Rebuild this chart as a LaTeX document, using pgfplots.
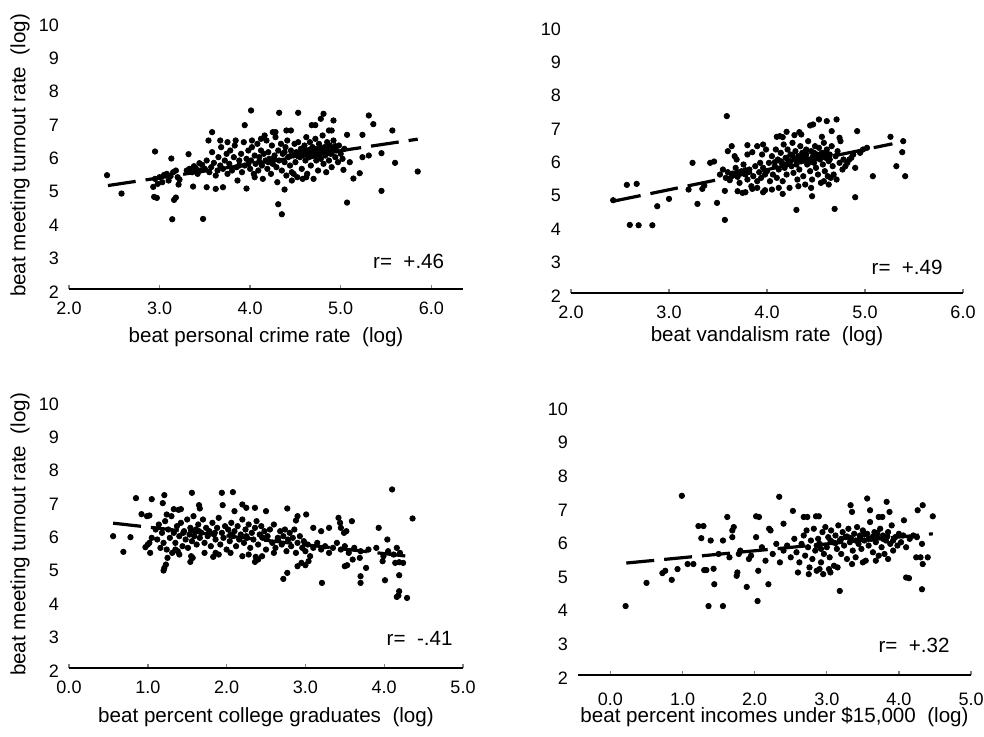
\documentclass[border=0pt]{standalone}
\usepackage{fontspec}
\setmainfont{Liberation Sans}
\usepackage{pgfplots}
\pgfplotsset{compat=1.18}

\pgfplotsset{
  panel/.style={
    scale only axis,
    ymin=2, ymax=10,
    axis x line=bottom,
    axis y line=left,
    axis line style={-, line width=0.75pt},
    y axis line style={draw=none},
    ytick={2,3,...,10},
    ytick style={draw=none},
    tick align=inside,
    major tick length=2pt,
    xtick style={line width=0.7pt},
    /pgf/number format/assume math mode=true,
    tick label style={font=\fontsize{9}{10}\selectfont},
    xticklabel style={anchor=center, yshift=-9.5pt,
      /pgf/number format/fixed, /pgf/number format/fixed zerofill,
      /pgf/number format/precision=1},
    yticklabel style={anchor=east, xshift=-1.5pt, yshift=-1.5pt},
    label style={font=\fontsize{10.3}{12}\selectfont},
    clip=false,
  },
  dots/.style={only marks, mark=*, mark size=1.35pt, black},
  fit/.style={no marks, black, line width=1.6pt, dash pattern=on 14pt off 5pt},
}

\begin{document}
\begin{tikzpicture}
\useasboundingbox (0,0) rectangle (492pt,368pt);

% top left
\begin{axis}[panel, at={(34.5pt,223.5pt)}, anchor=south west,
  width=197pt, height=133.5pt, xmin=2, xmax=6.35, xtick={2,3,4,5,6},
  xlabel={beat personal crime rate\ \ (log)},
  xlabel style={at={(axis description cs:0.5,-0.18)}, anchor=center},
  ylabel={beat meeting turnout rate\ \ (log)},
  ylabel style={at={(axis description cs:-0.124,0.5)}, anchor=center}]
\addplot[dots] coordinates {
(2.42,5.41) (2.58,4.86) (2.95,6.12) (2.93,5.06) (2.94,4.76) (2.97,4.73) (3.13,5.91) (3.14,4.09)
(3.16,4.67) (3.18,4.74) (3.21,5.13) (3.32,6.04) (3.37,5.07) (3.44,5.77) (3.48,4.10) (3.54,6.45)
(3.58,6.70) (3.67,6.45) (3.52,5.05) (3.62,5.00) (3.70,5.05) (3.94,6.91) (4.01,7.35) (3.96,5.01)
(4.32,7.28) (4.53,7.28) (4.31,4.54) (4.35,4.24) (4.38,4.98) (4.25,6.70) (4.28,6.70) (4.40,6.75)
(4.45,6.75) (4.81,7.25) (4.78,7.10) (4.92,7.05) (4.68,6.91) (4.72,6.91) (4.87,6.75) (4.90,6.75)
(5.31,7.20) (5.36,6.94) (5.57,6.75) (5.24,6.62) (5.07,6.62) (5.45,6.07) (5.60,5.78) (5.85,5.52)
(5.45,4.94) (5.07,4.59) (5.14,5.31) (5.21,5.47) (5.24,5.95) (5.31,6.00) (5.10,5.80) (5.03,5.57)
(2.95,5.30) (3.00,5.35) (3.05,5.42) (3.08,5.45) (3.12,5.38) (3.15,5.50) (3.18,5.55) (3.20,5.35)
(3.10,5.25) (3.03,5.20) (2.98,5.15) (3.22,5.28)
(3.30,5.55) (3.33,5.60) (3.36,5.50) (3.38,5.68) (3.40,5.62) (3.42,5.45) (3.45,5.55) (3.47,5.72)
(3.50,5.60) (3.52,5.85) (3.55,5.50) (3.57,5.65) (3.58,6.10) (3.60,5.78) (3.62,5.40) (3.64,5.55)
(3.65,5.95) (3.67,5.70) (3.68,6.25) (3.70,5.60) (3.72,5.85) (3.74,6.05) (3.75,5.45) (3.77,5.75)
(3.78,6.15) (3.80,5.55) (3.82,5.95) (3.83,6.30) (3.85,5.65) (3.86,5.25) (3.88,5.85) (3.90,6.05)
(3.91,5.50) (3.93,6.40) (3.94,5.70) (3.96,5.90) (3.98,6.15)
(4.00,5.60) (4.01,5.85) (4.02,6.25) (4.04,5.45) (4.05,6.00) (4.06,5.75) (4.08,6.35) (4.09,5.55)
(4.10,5.95) (4.12,6.15) (4.13,5.70) (4.14,5.30) (4.15,6.05) (4.17,5.85) (4.18,6.45) (4.19,5.60)
(4.20,6.10) (4.21,5.90) (4.23,5.45) (4.24,6.30) (4.25,5.75) (4.27,6.00) (4.28,6.55) (4.29,5.65)
(4.30,5.20) (4.31,6.15) (4.32,5.85) (4.34,6.35) (4.35,5.55) (4.36,6.05) (4.38,5.80) (4.39,6.25)
(4.40,5.40) (4.41,6.45) (4.42,5.95) (4.44,5.70) (4.45,6.15) (4.46,5.50) (4.48,6.00) (4.49,6.35)
(4.50,5.80) (4.51,6.10) (4.52,5.35) (4.53,6.40) (4.55,5.95) (4.56,6.20) (4.57,5.60) (4.58,6.05)
(4.60,6.30) (4.61,5.85) (4.62,6.55) (4.63,5.45) (4.64,6.15) (4.65,5.95) (4.66,6.40) (4.67,5.70)
(4.68,6.10) (4.69,6.25) (4.70,5.30) (4.71,6.00) (4.72,6.50) (4.73,5.85) (4.74,6.20) (4.75,5.55)
(4.76,6.35) (4.77,6.05) (4.78,5.90) (4.79,6.15) (4.80,6.60) (4.81,5.75) (4.82,6.25) (4.83,6.00)
(4.84,5.50) (4.85,6.40) (4.86,6.10) (4.87,5.85) (4.88,6.30) (4.89,6.05) (4.90,5.65) (4.91,6.20)
(4.92,6.45) (4.94,5.95) (4.95,6.15) (4.97,5.80) (4.98,6.30) (5.00,6.05) (5.02,5.90) (5.04,6.20)
(4.46,5.25) (4.58,5.30) (4.62,5.35) (4.48,5.45) (4.05,5.35) (4.16,6.60) (3.84,6.45) (3.75,6.40)
(4.12,6.50) (4.02,6.45)
(4.52,6.02) (4.57,6.12) (4.63,6.05) (4.66,6.18) (4.70,6.12) (4.74,6.02) (4.78,6.22) (4.82,6.10)
(4.86,6.25) (4.90,6.08) (4.44,5.98) (4.38,6.10) (4.26,5.92) (4.20,5.80) (4.10,5.82) (3.98,5.75)
(3.88,5.70) (4.60,6.18) (4.68,5.98) (4.94,6.28)
};
\addplot[fit] coordinates {(2.43,5.10) (5.85,6.49)};
\node[font=\fontsize{10.3}{12}\selectfont] at (axis cs:5.75,2.84) {r=\ \ +.46};
\end{axis}

% top right
\begin{axis}[panel, at={(285.5pt,221.5pt)}, anchor=south west,
  width=196pt, height=133.5pt, xmin=2, xmax=6, xtick={2,3,4,5,6},
  xlabel={beat vandalism rate\ \ (log)},
  xlabel style={at={(axis description cs:0.5,-0.161)}, anchor=center}]
\addplot[dots] coordinates {
(2.43,4.78) (2.57,5.24) (2.67,5.27) (2.60,4.04) (2.69,4.03) (2.83,4.03) (2.88,4.60) (3.00,4.82)
(3.20,5.10) (3.24,5.90) (3.29,4.67) (3.34,5.12) (3.36,5.22) (3.42,5.90) (3.46,5.94) (3.49,4.70)
(3.57,4.19) (3.57,5.06) (3.59,7.30) (3.60,6.25) (3.64,6.40) (3.67,6.10) (3.69,6.00) (3.70,5.05)
(3.75,5.00) (3.78,5.02) (3.80,6.43) (3.90,6.40) (3.96,6.45) (3.80,6.15) (3.85,6.22) (3.93,5.90)
(3.96,5.02) (3.98,5.08) (4.10,6.68) (4.13,6.70) (4.16,6.67) (4.20,6.83) (4.28,6.73) (4.33,6.82)
(4.35,6.75) (4.16,4.97) (4.30,4.49) (4.44,7.02) (4.47,7.05) (4.53,7.20) (4.61,7.15) (4.71,7.20)
(4.46,4.90) (4.56,6.68) (4.66,6.85) (4.74,6.65) (4.69,4.52) (4.92,6.85) (4.90,4.87) (5.08,5.50)
(5.26,6.68) (5.39,6.55) (5.38,6.22) (5.32,5.80) (5.41,5.50)
(3.52,5.55) (3.55,5.70) (3.58,5.45) (3.60,5.62) (3.62,5.38) (3.65,5.58) (3.68,5.75) (3.70,5.48)
(3.72,5.30) (3.74,5.65) (3.76,5.85) (3.78,5.55) (3.80,5.40) (3.82,5.70) (3.84,5.20) (3.86,5.50)
(3.88,5.80) (3.90,5.35) (3.92,5.62) (3.94,5.45) (3.96,5.75) (3.98,5.55) (3.85,5.12) (3.90,5.15)
(3.95,6.15) (3.99,6.30)
(4.00,5.65) (4.02,5.90) (4.03,5.35) (4.05,6.10) (4.06,5.55) (4.08,5.80) (4.09,6.30) (4.10,5.45)
(4.11,6.00) (4.12,5.70) (4.14,6.20) (4.15,5.90) (4.16,5.35) (4.17,6.45) (4.18,5.75) (4.19,6.05)
(4.20,5.55) (4.21,6.30) (4.22,5.95) (4.23,5.15) (4.24,6.15) (4.25,5.80) (4.26,6.50) (4.27,5.60)
(4.28,6.00) (4.29,6.25) (4.30,5.85) (4.31,5.40) (4.32,6.10) (4.33,5.70) (4.34,6.40) (4.35,5.95)
(4.36,6.20) (4.37,5.50) (4.38,6.05) (4.39,5.25) (4.40,6.30) (4.41,5.85) (4.42,6.55) (4.43,6.00)
(4.44,5.65) (4.45,6.25) (4.46,5.40) (4.47,6.10) (4.48,5.90) (4.49,6.40) (4.50,5.75) (4.51,6.15)
(4.52,5.55) (4.53,6.35) (4.54,6.00) (4.55,5.30) (4.56,6.20) (4.57,5.85) (4.58,6.50) (4.59,5.65)
(4.60,6.05) (4.61,6.30) (4.62,5.50) (4.63,5.95) (4.64,6.15) (4.65,5.45) (4.66,6.40) (4.67,5.80)
(4.68,5.55) (4.70,6.10) (4.71,5.40) (4.72,6.25) (4.74,5.90) (4.75,6.55) (4.77,5.70) (4.78,6.00)
(4.80,5.80) (4.82,5.90) (4.84,6.00) (4.86,6.05) (4.88,6.15) (4.90,5.75) (4.95,6.20) (4.98,6.30)
(5.02,6.35) (4.12,5.15) (4.32,5.20) (4.45,5.15) (4.58,5.35) (4.63,5.25) (4.05,5.10)
(4.14,5.95) (4.20,6.05) (4.26,6.12) (4.30,5.98) (4.36,6.08) (4.40,6.15) (4.44,5.92) (4.48,6.20)
(4.52,6.05) (4.56,6.12) (4.60,6.22) (4.64,6.00) (4.18,5.85) (4.24,5.95) (4.08,5.92) (3.70,5.62)
(3.78,5.68) (3.64,5.50)
};
\addplot[fit] coordinates {(2.43,4.75) (5.28,6.47)};
\node[font=\fontsize{10.3}{12}\selectfont] at (axis cs:5.43,2.78) {r=\ \ +.49};
\end{axis}

% bottom left
\begin{axis}[panel, at={(34.5pt,34pt)}, anchor=south west,
  width=197pt, height=133.5pt, xmin=0, xmax=5, xtick={0,1,2,3,4,5},
  xlabel={beat percent college graduates\ \ (log)},
  xlabel style={at={(axis description cs:0.5,-0.184)}, anchor=center},
  ylabel={beat meeting turnout rate\ \ (log)},
  ylabel style={at={(axis description cs:-0.124,0.5)}, anchor=center}]
\addplot[dots] coordinates {
(0.56,5.95) (0.69,5.48) (0.78,5.92) (0.85,7.09) (0.92,6.61) (0.99,6.55) (1.02,6.57) (1.05,7.06)
(0.97,5.62) (1.00,5.70) (1.02,5.75) (1.03,5.45) (1.05,5.90) (1.21,7.18) (1.19,6.94) (1.20,4.92)
(1.21,5.00) (1.23,5.10) (1.24,6.60) (1.56,7.25) (1.54,5.18) (1.57,5.30) (1.65,6.88) (1.66,6.78)
(1.33,6.76) (1.39,6.74) (1.42,6.76) (1.83,5.33) (1.86,5.45) (1.94,7.25) (1.95,6.88) (2.08,7.27)
(2.10,6.70) (2.20,6.90) (2.25,6.80) (2.36,6.80) (2.50,6.70) (2.20,5.35) (2.36,5.18) (2.37,5.33)
(2.77,6.78) (2.72,4.67) (2.77,4.85) (2.88,6.42) (2.90,6.55) (3.01,6.60) (2.90,5.05) (2.95,5.15)
(3.00,5.08) (3.04,5.20) (3.21,4.55) (3.10,6.20) (3.20,6.10) (3.30,6.20) (3.42,6.50) (3.44,6.35)
(3.45,6.20) (3.49,6.05) (3.52,6.10) (3.59,6.40) (3.50,5.05) (3.53,5.08) (3.60,5.25) (3.69,5.30)
(3.70,4.75) (3.70,4.55) (3.77,5.00) (3.93,6.20) (3.98,5.20) (3.99,5.35) (4.01,4.63) (4.04,5.85)
(4.10,7.35) (4.12,5.40) (4.16,5.60) (4.14,5.15) (4.19,5.17) (4.24,5.15) (4.19,4.78) (4.16,4.13)
(4.18,4.17) (4.19,4.30) (4.29,4.10) (4.36,6.48)
(1.10,6.15) (1.12,5.85) (1.14,6.30) (1.16,5.60) (1.18,6.05) (1.20,5.75) (1.22,6.40) (1.24,5.55)
(1.26,6.15) (1.28,5.90) (1.30,6.55) (1.31,5.45) (1.33,6.05) (1.35,5.75) (1.37,6.25) (1.38,5.50)
(1.40,5.95) (1.42,6.35) (1.44,5.65) (1.46,6.10) (1.48,5.85) (1.50,6.45) (1.51,5.60) (1.53,6.00)
(1.54,6.20) (1.56,5.80) (1.58,6.55) (1.59,5.95) (1.61,6.15) (1.62,5.70) (1.64,6.30) (1.66,5.90)
(1.68,6.05) (1.70,6.45) (1.72,5.75) (1.74,6.20) (1.76,5.95) (1.78,6.10) (1.80,5.65) (1.82,6.35)
(1.84,6.00) (1.86,5.85) (1.88,6.20) (1.90,6.50) (1.92,5.70) (1.94,6.05) (1.96,5.90) (1.98,6.25)
(2.00,5.55) (2.02,6.15) (2.04,5.80) (2.06,6.35) (2.08,5.95) (2.10,6.10) (2.12,5.65) (2.14,6.25)
(2.16,5.85) (2.18,6.00) (2.20,6.45) (2.22,5.75) (2.24,6.15) (2.26,5.90) (2.28,6.30) (2.30,5.60)
(2.32,6.05) (2.34,5.85) (2.36,6.20) (2.38,6.40) (2.40,5.70) (2.42,6.00) (2.44,6.25) (2.46,5.90)
(2.48,6.10) (2.50,5.55) (2.52,5.95) (2.55,6.15) (2.58,5.75) (2.60,6.30) (2.62,5.60) (2.65,5.90)
(2.68,6.10) (2.70,5.70) (2.72,5.95) (2.74,6.15) (2.76,5.50) (2.78,5.85) (2.80,6.05) (2.82,5.65)
(2.84,5.90) (2.86,6.15) (2.88,5.45) (2.90,5.75) (2.93,5.95) (2.96,5.60) (2.98,5.80) (3.00,5.50)
(3.03,5.70) (3.06,5.35) (3.10,5.60) (3.15,5.75) (3.20,5.55) (3.25,5.65) (3.30,5.45) (3.35,5.60)
(3.40,5.75) (3.45,5.55) (3.50,5.65) (3.55,5.45) (3.62,5.60) (3.70,5.50) (3.80,5.55) (3.90,5.60)
(4.05,5.50) (4.20,5.45)
(1.25,5.30) (1.40,5.40) (1.55,5.35) (1.72,5.45) (1.90,5.40) (2.05,5.45) (2.28,5.40) (2.45,5.35)
(2.60,5.45) (1.35,5.55) (2.40,5.25)
(1.45,6.05) (1.65,6.10) (1.85,6.05) (2.05,6.00) (2.25,5.95) (2.45,5.92) (2.65,5.85) (1.55,6.12)
};
\addplot[fit] coordinates {(0.56,6.34) (4.37,5.33)};
\node[font=\fontsize{10.3}{12}\selectfont] at (axis cs:4.45,2.9) {r=\ \ -.41};
\end{axis}

% bottom right
\begin{axis}[panel, at={(289pt,30.5pt)}, anchor=south west,
  width=196.5pt, height=134.5pt, xmin=-0.45, xmax=5, xtick={0,1,2,3,4,5},
  xlabel={beat percent incomes under \$15,000\ \ (log)},
  xlabel style={at={(axis description cs:0.5,-0.156)}, anchor=center},
  xticklabel style={yshift=-2.5pt}]
\addplot[dots] coordinates {
(0.21,4.05) (0.50,4.74) (0.72,5.03) (0.76,5.10) (0.85,4.83) (0.93,5.15) (1.07,5.30) (1.15,5.30)
(0.99,7.33) (1.22,6.43) (1.29,6.43) (1.26,6.07) (1.30,5.12) (1.33,5.12) (1.39,6.00) (1.36,4.05)
(1.44,4.70) (1.43,5.16) (1.56,4.05) (1.56,6.00) (1.62,6.70) (1.69,6.30) (1.71,6.40) (1.69,6.10)
(1.75,4.95) (1.76,5.05) (1.78,5.60) (1.89,4.62) (1.92,5.45) (2.02,6.72) (2.06,6.70) (2.02,6.10)
(2.04,4.20) (2.05,5.10) (2.19,4.70) (2.20,6.35) (2.22,6.30) (2.34,7.30) (2.40,6.50) (2.53,6.88)
(2.68,6.70) (2.73,6.70) (2.85,6.72) (2.89,6.72) (3.18,4.50) (3.33,7.05) (3.35,6.85) (3.56,7.25)
(3.60,6.90) (3.83,7.15) (3.87,6.85) (3.72,6.70) (3.77,6.70) (4.07,6.60) (4.10,4.90) (4.14,4.88)
(4.26,6.90) (4.33,7.05) (4.32,4.55) (4.33,5.30) (4.30,5.50) (4.40,5.50) (4.47,6.72) (4.24,5.50)
(4.32,5.90)
(1.50,5.60) (1.65,5.50) (1.80,5.70) (1.95,5.55) (2.10,5.80) (2.15,5.40) (2.25,5.60) (2.30,5.90)
(2.35,5.35) (2.40,5.70) (2.45,5.85) (2.50,5.50) (2.55,6.05) (2.58,5.65) (2.62,5.35) (2.65,5.90)
(2.68,6.15) (2.70,5.55) (2.72,6.30) (2.74,5.80) (2.76,5.20) (2.78,6.00) (2.80,5.45) (2.82,6.35)
(2.84,5.70) (2.86,5.10) (2.88,6.05) (2.90,5.90) (2.92,5.35) (2.94,6.25) (2.96,5.60) (2.98,6.40)
(3.00,5.80) (3.02,6.10) (3.04,5.50) (3.06,6.30) (3.08,5.95) (3.10,5.25) (3.12,6.15) (3.14,5.75)
(3.16,6.45) (3.18,6.00) (3.20,5.60) (3.22,6.25) (3.24,5.85) (3.26,6.10) (3.28,5.45) (3.30,6.35)
(3.32,5.95) (3.34,6.05) (3.36,5.70) (3.38,6.20) (3.40,5.50) (3.42,6.40) (3.44,5.90) (3.46,6.15)
(3.48,5.75) (3.50,6.30) (3.52,6.00) (3.54,5.40) (3.56,6.20) (3.58,5.85) (3.60,6.55) (3.62,6.05)
(3.64,5.65) (3.66,6.25) (3.68,5.95) (3.70,6.10) (3.72,5.55) (3.74,6.35) (3.76,5.80) (3.78,6.15)
(3.80,5.60) (3.82,6.00) (3.85,6.25) (3.88,5.90) (3.90,6.45) (3.92,5.70) (3.95,6.10) (3.98,5.85)
(4.00,6.20) (4.03,5.95) (4.06,6.15) (4.10,5.80) (4.15,6.05) (4.20,6.15) (4.25,6.10)
(2.60,5.05) (2.75,5.00) (2.90,5.15) (3.05,5.05) (3.15,5.20) (3.35,5.30) (3.50,5.35) (3.68,5.40)
(3.85,5.45) (2.95,5.00) (3.03,5.15)
(3.05,6.00) (3.12,5.92) (3.20,6.05) (3.28,6.12) (3.32,6.08) (3.40,6.00) (3.46,6.10) (3.52,6.18)
(3.58,6.05) (3.64,6.12) (3.70,6.22) (3.78,6.05) (3.84,6.12) (3.92,6.00) (2.86,5.85) (2.92,5.75)
};
\addplot[fit] coordinates {(0.22,5.33) (4.47,6.20)};
\node[font=\fontsize{10.3}{12}\selectfont] at (axis cs:4.21,2.89) {r=\ \ +.32};
\end{axis}
\end{tikzpicture}
\end{document}
